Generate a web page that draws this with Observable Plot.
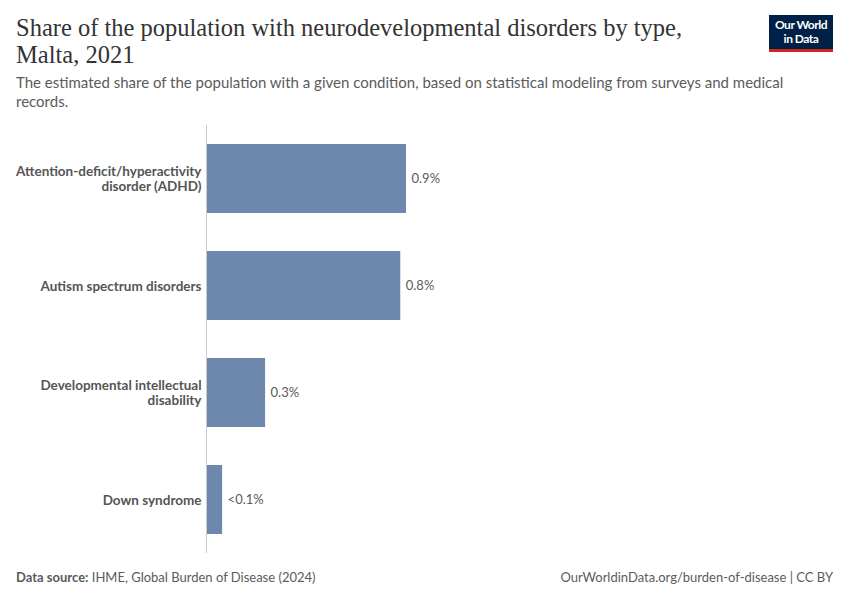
<!DOCTYPE html>
<html>
<head>
<meta charset="utf-8">
<script src="https://cdn.jsdelivr.net/npm/d3@7"></script>
<script src="https://cdn.jsdelivr.net/npm/@observablehq/plot@0.6"></script>
<style>
  html, body { margin: 0; padding: 0; background: #fff; }
  body { width: 850px; height: 600px; position: relative; overflow: hidden; font-family: Lato, "Noto Sans", sans-serif; }
  #title { position: absolute; left: 16px; top: 14px; width: 720px; font-family: "Liberation Serif", "DejaVu Serif", serif; font-size: 24.5px; line-height: 27px; color: #333; }
  #subtitle { position: absolute; left: 16px; top: 73px; width: 800px; font-size: 15px; line-height: 19px; color: #5b5b5b; }
  #logo { position: absolute; left: 769px; top: 15px; width: 64px; height: 37px; background: #002147; border-bottom: 3px solid #ce261e; box-sizing: border-box; color: #fff; font-size: 12px; line-height: 14px; text-align: center; padding-top: 3px; font-weight: 700; letter-spacing: -0.5px; }
  #chart { position: absolute; left: 0; top: 120px; }
  #footer-left { position: absolute; left: 16px; top: 569px; font-size: 13px; color: #5b5b5b; }
  #footer-left b { font-weight: 700; }
  #footer-right { position: absolute; right: 17px; top: 569px; font-size: 13px; color: #5b5b5b; }
</style>
</head>
<body>
<div id="title">Share of the population with neurodevelopmental disorders by type,<br>Malta, 2021</div>
<div id="subtitle">The estimated share of the population with a given condition, based on statistical modeling from surveys and medical records.</div>
<div id="logo">Our World<br>in Data</div>
<div id="chart"></div>
<div id="footer-left"><b>Data source:</b> IHME, Global Burden of Disease (2024)</div>
<div id="footer-right">OurWorldinData.org/burden-of-disease | CC BY</div>
<script>
const categories = [
  "Attention-deficit/hyperactivity\ndisorder (ADHD)",
  "Autism spectrum disorders",
  "Developmental intellectual\ndisability",
  "Down syndrome"
];
const values = [0.87, 0.845, 0.257, 0.07];
const valueLabels = ["0.9%", "0.8%", "0.3%", "<0.1%"];

const data = categories.map((c, i) => ({category: c, value: values[i], label: valueLabels[i]}));

const chart = Plot.plot({
  width: 850,
  height: 436,
  marginTop: 5,
  marginBottom: 3,
  marginLeft: 206,
  marginRight: 40,
  style: {fontFamily: "Lato, sans-serif", fontSize: "13px", color: "#555"},
  x: {domain: [0, 0.87], range: [206, 406], axis: null},
  y: {domain: categories, paddingInner: 0.355, paddingOuter: 0.1775, label: null},
  marks: [
    Plot.barX(data, {x: "value", y: "category", fill: "#6d87ad"}),
    Plot.ruleX([0], {stroke: "#ccc", strokeWidth: 1}),
    Plot.text(data, {x: "value", y: "category", text: "label", textAnchor: "start", dx: 5, fill: "#5b5b5b", fontSize: 13}),
    Plot.axisY({tickSize: 0, tickPadding: 5, fontWeight: 700, fontSize: 13.5, fill: "#555", label: null, lineHeight: 1.12})
  ]
});
document.getElementById("chart").appendChild(chart);
</script>
</body>
</html>
